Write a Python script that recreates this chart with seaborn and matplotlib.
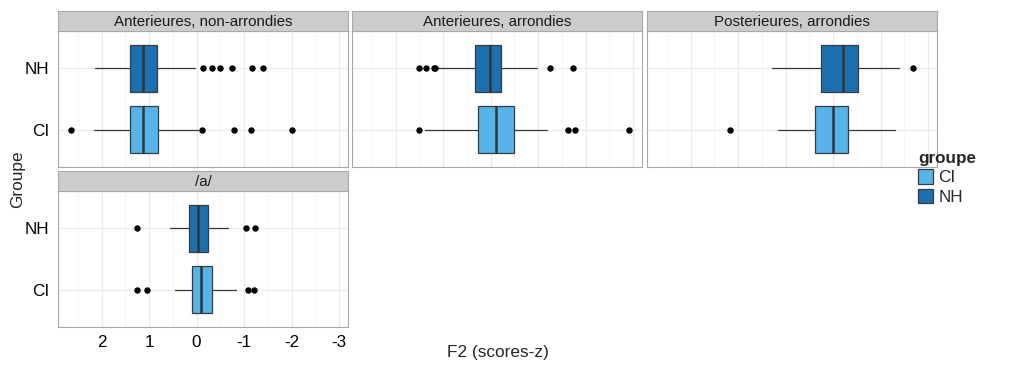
import matplotlib
matplotlib.use("Agg")
import matplotlib.pyplot as plt
import seaborn as sns
from matplotlib.patches import Patch

# facet titles and groups
panels = ["Anterieures, non-arrondies", "Anterieures, arrondies",
          "Posterieures, arrondies", "/a/"]
groups = ["CI", "NH"]
colors = {"CI": "#56B4E9", "NH": "#1B70B0"}

# box statistics per panel, order: CI, NH  (F2 z-scores)
q1 = [[0.81, 0.84], [-0.49, -0.21], [-1.32, -1.52], [-0.32, -0.23]]
med = [[1.12, 1.12], [-0.12, 0.01], [-1.00, -1.21], [-0.09, -0.04]]
q3 = [[1.41, 1.41], [0.26, 0.33], [-0.62, -0.75], [0.10, 0.15]]
whislo = [[-0.03, 0.04], [-1.18, -0.97], [-2.31, -2.38], [-0.82, -0.67]]
whishi = [[2.16, 2.13], [1.39, 1.15], [0.17, 0.28], [0.45, 0.55]]
fliers = [
    [[2.65, -0.11, -0.79, -1.15, -2.02],
     [-0.14, -0.32, -0.50, -0.74, -1.16, -1.40]],
    [[1.50, -1.64, -1.78, -2.91],
     [1.50, 1.36, 1.20, 1.17, -1.26, -1.73]],
    [[1.18],
     [-2.69]],
    [[1.25, 1.05, -1.09, -1.21],
     [1.25, -1.05, -1.23]],
]

xticks = [2, 1, 0, -1, -2, -3]
xminor = [2.5, 1.5, 0.5, -0.5, -1.5, -2.5]

sns.set_theme(style="whitegrid")
plt.rcParams['font.family'] = ['Liberation Sans', 'DejaVu Sans']

W, H = 1012, 365
fig = plt.figure(figsize=(W / 100, H / 100), dpi=100)

cols_x = [58, 352, 647]
pw = 290
rows_y = [(11, 31, 167), (171, 191, 327)]
layout = [(0, 0), (0, 1), (0, 2), (1, 0)]

for i, (r, c) in enumerate(layout):
    st, pt, pb = rows_y[r]
    x0 = cols_x[c]
    ax = fig.add_axes([x0 / W, 1 - pb / H, pw / W, (pb - pt) / H])
    sax = fig.add_axes([x0 / W, 1 - pt / H, pw / W, (pt - st) / H])
    sax.set_facecolor("#CCCCCC")
    sax.set_xticks([])
    sax.set_yticks([])
    for s in sax.spines.values():
        s.set_color("#A8A8A8")
        s.set_linewidth(0.8)
    sax.text(0.5, 0.45, panels[i], ha="center", va="center",
             fontsize=10.9, color="#1A1A1A", transform=sax.transAxes)

    stats = []
    for g in range(2):
        stats.append(dict(q1=q1[i][g], med=med[i][g], q3=q3[i][g],
                          whislo=whislo[i][g], whishi=whishi[i][g],
                          fliers=fliers[i][g], label=groups[g]))
    bp = ax.bxp(stats, positions=[1, 2], widths=0.76, orientation="horizontal",
                patch_artist=True, showfliers=True,
                boxprops=dict(edgecolor="#3A3A3A", linewidth=0.9),
                medianprops=dict(color="#333333", linewidth=1.8),
                whiskerprops=dict(color="#3A3A3A", linewidth=0.9),
                capprops=dict(linewidth=0),
                flierprops=dict(marker="o", markerfacecolor="black",
                                markeredgecolor="black", markersize=3.6))
    for patch, g in zip(bp["boxes"], groups):
        patch.set_facecolor(colors[g])

    ax.set_xlim(2.92, -3.19)
    ax.set_ylim(0.4, 2.6)
    ax.set_facecolor("white")
    ax.set_xticks(xticks)
    ax.set_xticks(xminor, minor=True)
    ax.set_yticks([1, 2])
    ax.grid(True, which="major", color="#EBEBEB", linewidth=0.9)
    ax.grid(True, which="minor", axis="x", color="#F5F5F5", linewidth=0.6)
    ax.set_axisbelow(True)
    for s in ax.spines.values():
        s.set_color("#A8A8A8")
        s.set_linewidth(0.8)
    ax.tick_params(which="minor", length=0)
    if c == 0:
        ax.set_yticklabels(groups, fontsize=12.3, color="black")
        ax.tick_params(axis="y", length=4, color="#555555", width=0.8, pad=2)
    else:
        ax.set_yticklabels([])
        ax.tick_params(axis="y", length=0)
    if r == 1:
        ax.set_xticklabels([str(t) for t in xticks], fontsize=12.3, color="black")
        ax.tick_params(axis="x", length=4, color="#555555", width=0.8, pad=2)
    else:
        ax.set_xticklabels([])
        ax.tick_params(axis="x", length=0)

fig.text((58 + 937) / 2 / W, 1 - 352 / H, "F2 (scores-z)", ha="center",
         va="center", fontsize=12.4)
fig.text(18 / W, 1 - 179 / H, "Groupe", ha="center", va="center",
         rotation=90, fontsize=12.4)

handles = [Patch(facecolor=colors[g], edgecolor="#3A3A3A", linewidth=0.9)
           for g in groups]
leg = fig.legend(handles, groups, title="groupe", loc="upper left",
                 bbox_to_anchor=(918 / W, 1 - 151 / H), frameon=False,
                 fontsize=12.3, title_fontsize=12.3, handlelength=0.9,
                 handleheight=0.9, handletextpad=0.3, labelspacing=0.2,
                 borderaxespad=0, borderpad=0, alignment="left")
leg.get_title().set_fontweight("bold")

fig.savefig("out.png", dpi=100)
